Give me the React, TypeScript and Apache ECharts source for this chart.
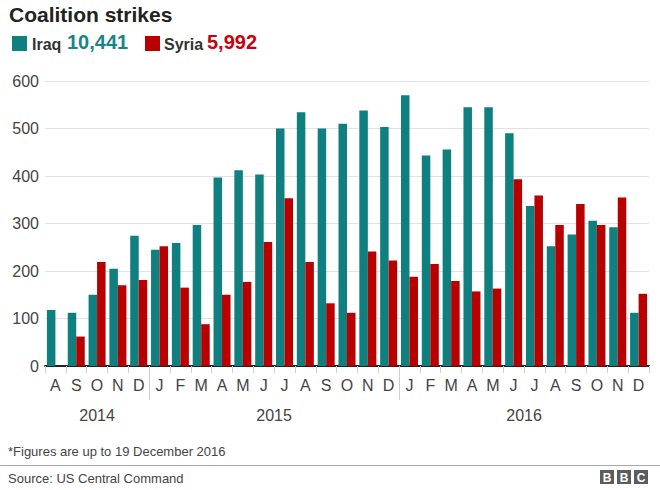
import React, { useEffect, useRef } from 'react';
import * as echarts from 'echarts';

const months = ['A', 'S', 'O', 'N', 'D', 'J', 'F', 'M', 'A', 'M', 'J', 'J', 'A', 'S', 'O', 'N', 'D', 'J', 'F', 'M', 'A', 'M', 'J', 'J', 'A', 'S', 'O', 'N', 'D'];
const yearLabels = ['2014', '2015', '2016'];
const monthsPerYear = [5, 12, 12];
const iraq = [118, 112, 150, 205, 274, 245, 259, 297, 397, 412, 403, 500, 534, 500, 510, 538, 503, 570, 443, 456, 545, 545, 490, 337, 252, 277, 306, 292, 112];
const syria = [null, 62, 219, 170, 181, 252, 165, 88, 150, 177, 261, 353, 219, 132, 112, 241, 222, 188, 215, 179, 157, 163, 393, 359, 297, 341, 297, 355, 152];
const iraqTotal = '10,441';
const syriaTotal = '5,992';
const yTicks = { min: 0, max: 600, interval: 100 };

const TEAL = '#0f7f7f';
const TEAL_TEXT = '#168787';
const RED = '#b80000';
const RED_TEXT = '#c8000f';
const FONT = '"Liberation Sans", Arial, Helvetica, sans-serif';

export default function App() {
  const ref = useRef<HTMLDivElement>(null);
  useEffect(() => {
    if (!ref.current) return;
    const chart = echarts.init(ref.current, null, { renderer: 'svg' });
    const option: any = {
      animation: false,
      backgroundColor: '#ffffff',
      textStyle: { fontFamily: FONT },
      grid: { left: 45, right: 11, top: 81, bottom: 124, containLabel: false },
      xAxis: {
        type: 'category',
        data: months,
        boundaryGap: true,
        axisLine: { lineStyle: { color: '#222', width: 2 } },
        axisTick: { show: true, length: 7, interval: 0, lineStyle: { color: '#cfcfcf' } },
        axisLabel: { interval: 0, fontSize: 16, color: '#444', margin: 11, fontFamily: FONT },
      },
      yAxis: {
        type: 'value',
        min: yTicks.min,
        max: yTicks.max,
        interval: yTicks.interval,
        axisLine: { show: false },
        axisTick: { show: false },
        splitLine: { lineStyle: { color: '#e2e2e2' } },
        axisLabel: { fontSize: 16, color: '#444', margin: 6, fontFamily: FONT },
      },
      series: [
        { name: 'Iraq', type: 'bar', data: iraq, barWidth: 8.5, barGap: '0%', itemStyle: { color: TEAL } },
        { name: 'Syria', type: 'bar', data: syria, barWidth: 8.5, barGap: '0%', itemStyle: { color: RED } },
      ],
    };
    chart.setOption(option);

    const px = (i: number) => chart.convertToPixel({ xAxisIndex: 0 }, i) as number;
    const y0 = chart.convertToPixel({ yAxisIndex: 0 }, 0) as number;
    const graphics: any[] = [];
    let start = 0;
    yearLabels.forEach((yr, k) => {
      const end = start + monthsPerYear[k] - 1;
      graphics.push({
        type: 'text',
        x: (px(start) + px(end)) / 2,
        y: y0 + 49,
        style: { text: yr, fontSize: 16, fill: '#444', fontFamily: FONT, align: 'center', verticalAlign: 'middle' },
      });
      if (k > 0) {
        const bx = Math.round((px(start - 1) + px(start)) / 2) + 0.5;
        graphics.push({
          type: 'line',
          shape: { x1: bx, y1: y0 + 1, x2: bx, y2: y0 + 34 },
          style: { stroke: '#cfcfcf', lineWidth: 1 },
        });
      }
      start = end + 1;
    });

    // title and legend
    graphics.push(
      { type: 'text', x: 9, y: 14, style: { text: 'Coalition strikes', fontSize: 21, fontWeight: 'bold', fill: '#222', fontFamily: FONT, verticalAlign: 'middle' } },
      { type: 'rect', shape: { x: 12, y: 36, width: 15, height: 15 }, style: { fill: TEAL } },
      { type: 'text', x: 32, y: 44, style: { text: 'Iraq', fontSize: 16, fontWeight: 'bold', fill: '#333', fontFamily: FONT, verticalAlign: 'middle' } },
      { type: 'text', x: 67, y: 42, style: { text: iraqTotal, fontSize: 20, fontWeight: 'bold', fill: TEAL_TEXT, fontFamily: FONT, verticalAlign: 'middle' } },
      { type: 'rect', shape: { x: 145, y: 36, width: 15, height: 15 }, style: { fill: RED } },
      { type: 'text', x: 164, y: 44, style: { text: 'Syria', fontSize: 16, fontWeight: 'bold', fill: '#333', fontFamily: FONT, verticalAlign: 'middle' } },
      { type: 'text', x: 207, y: 42, style: { text: syriaTotal, fontSize: 20, fontWeight: 'bold', fill: RED_TEXT, fontFamily: FONT, verticalAlign: 'middle' } },
      // footer
      { type: 'text', x: 8, y: 451, style: { text: '*Figures are up to 19 December 2016', fontSize: 13, fill: '#444', fontFamily: FONT, verticalAlign: 'middle' } },
      { type: 'line', shape: { x1: 0, y1: 465.5, x2: 660, y2: 465.5 }, style: { stroke: '#aaaaaa', lineWidth: 1 } },
      { type: 'text', x: 8, y: 478, style: { text: 'Source: US Central Command', fontSize: 13, fill: '#444', fontFamily: FONT, verticalAlign: 'middle' } },
    );
    ['B', 'B', 'C'].forEach((ch, i) => {
      const x = 600 + i * 17;
      graphics.push(
        { type: 'rect', shape: { x, y: 470, width: 14, height: 14 }, style: { fill: '#5c5c5c' } },
        { type: 'text', x: x + 7, y: 477.5, style: { text: ch, fontSize: 12, fontWeight: 'bold', fill: '#fff', fontFamily: FONT, align: 'center', verticalAlign: 'middle' } },
      );
    });
    chart.setOption({ graphic: graphics });

    return () => chart.dispose();
  }, []);
  return <div ref={ref} style={{ position: 'fixed', left: 0, top: 0, width: 660, height: 490, background: '#fff' }} />;
}
